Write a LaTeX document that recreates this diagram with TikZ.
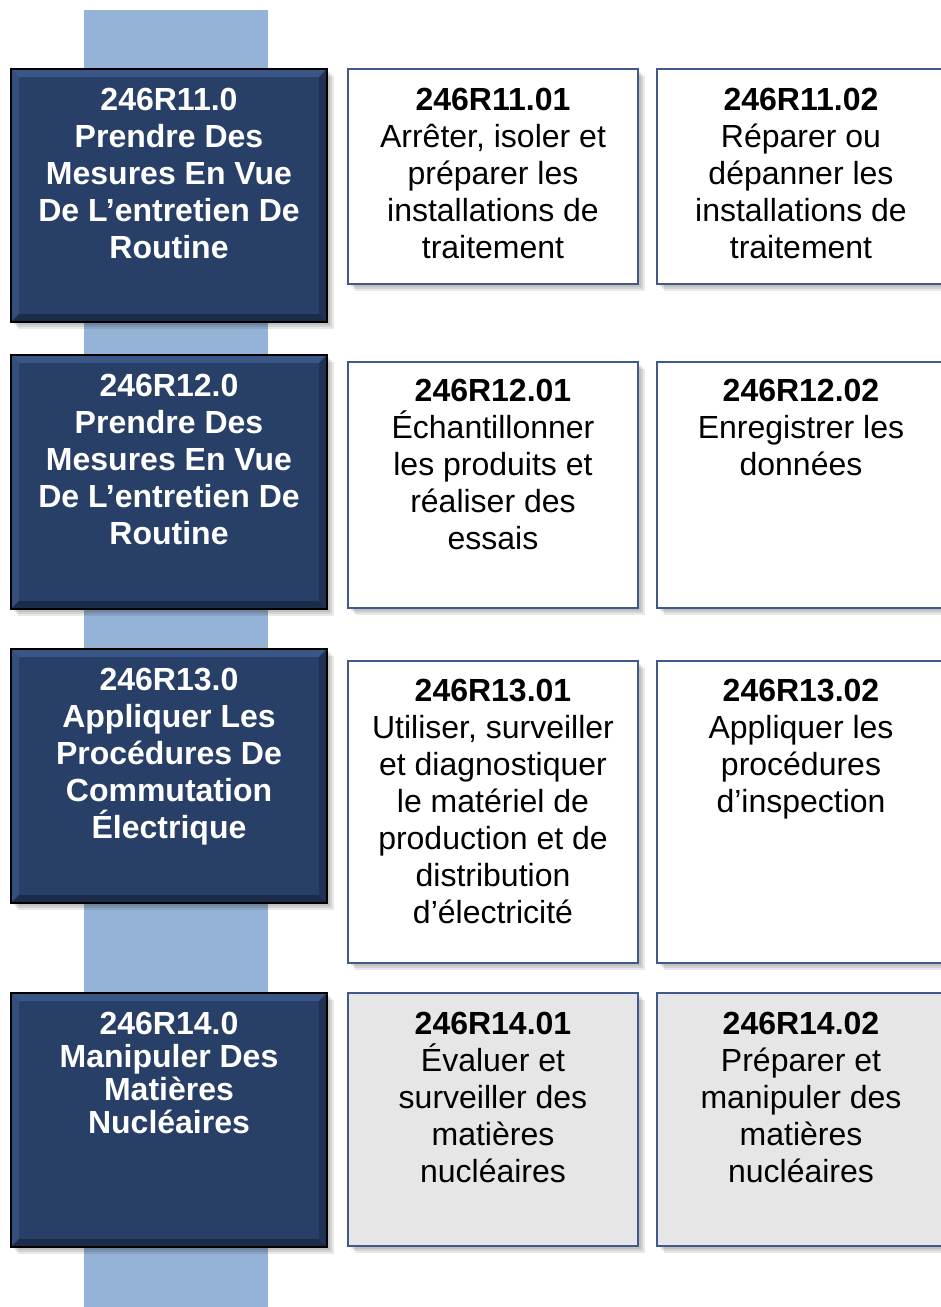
\documentclass[tikz,border=0pt]{standalone}
\usepackage{fontspec}
\setmainfont{Liberation Sans}
\definecolor{barblue}{HTML}{95B3D7}
\definecolor{navy}{HTML}{283F68}
\definecolor{navylight}{HTML}{3A5686}
\definecolor{navydark}{HTML}{1B2C4A}
\definecolor{frameblue}{HTML}{41598A}
\definecolor{panelgray}{HTML}{E6E6E6}
\begin{document}
\begin{tikzpicture}[x=0.75pt,y=-0.75pt,
  titletext/.style={anchor=north,inner sep=0pt,align=center,text=white,font=\fontsize{24}{27.75}\selectfont\bfseries},
  itemtext/.style={anchor=north,inner sep=0pt,align=center,text=black,font=\fontsize{24}{27.75}\selectfont},
  softshadow/.style={fill=black,opacity=0.09}]
\useasboundingbox (0,0) rectangle (941,1307);

%Shape: Rectangle (vertical bar)
\fill[barblue] (84,10) rectangle (268,1307);

%Shape: dark title blocks with bevel
\foreach \t/\b in {69/322,355/609,649/903,993/1247}{
  \foreach \s in {3,5,7} \fill[softshadow] (11+\s,\t+\s) rectangle (327+\s,\b+\s);
  \fill[navy] (11,\t) rectangle (327,\b);
  \fill[navylight] (11,\t) -- (327,\t) -- (319,\t+8) -- (19,\t+8) -- cycle;
  \fill[navylight!70!navy] (11,\t) -- (19,\t+8) -- (19,\b-8) -- (11,\b) -- cycle;
  \fill[navydark] (11,\b) -- (19,\b-8) -- (319,\b-8) -- (327,\b) -- cycle;
  \fill[navydark!70!navy] (327,\t) -- (327,\b) -- (319,\b-8) -- (319,\t+8) -- cycle;
  \draw[black,line width=1.5pt] (11,\t) rectangle (327,\b);
}

%Shape: item boxes
\foreach \t/\b/\f in {69/284/white,362/608/white,661/963/white,993/1246/panelgray}{
  \foreach \s in {3,5,7} {
    \fill[softshadow] (348+\s,\t+\s) rectangle (638+\s,\b+\s);
    \fill[softshadow] (657+\s,\t+\s) rectangle (945+\s,\b+\s);
  }
  \draw[frameblue,line width=1.2pt,fill=\f] (348,\t) rectangle (638,\b);
  \draw[frameblue,line width=1.2pt,fill=\f] (657,\t) rectangle (945,\b);
}

%Text: row 1
\node[titletext] (d11) at (169,88) {246R11.0\\Prendre Des\\Mesures En Vue\\De L’entretien De\\Routine};
\node[itemtext] (w1101) at (493,88) {\textbf{246R11.01}\\Arrêter, isoler et\\préparer les\\installations de\\traitement};
\node[itemtext] (w1102) at (801,88) {\textbf{246R11.02}\\Réparer ou\\dépanner les\\installations de\\traitement};

%Text: row 2
\node[titletext] (d12) at (169,374) {246R12.0\\Prendre Des\\Mesures En Vue\\De L’entretien De\\Routine};
\node[itemtext] (w1201) at (493,379) {\textbf{246R12.01}\\Échantillonner\\les produits et\\réaliser des\\essais};
\node[itemtext] (w1202) at (801,379) {\textbf{246R12.02}\\Enregistrer les\\données};

%Text: row 3
\node[titletext] (d13) at (169,668) {246R13.0\\Appliquer Les\\Procédures De\\Commutation\\Électrique};
\node[itemtext] (w1301) at (493,679) {\textbf{246R13.01}\\Utiliser, surveiller\\et diagnostiquer\\le matériel de\\production et de\\distribution\\d’électricité};
\node[itemtext] (w1302) at (801,679) {\textbf{246R13.02}\\Appliquer les\\procédures\\d’inspection};

%Text: row 4
\node[titletext,font=\fontsize{24}{24.75}\selectfont\bfseries] (d14) at (169,1012) {246R14.0\\Manipuler Des\\Matières\\Nucléaires};
\node[itemtext] (w1401) at (493,1012) {\textbf{246R14.01}\\Évaluer et\\surveiller des\\matières\\nucléaires};
\node[itemtext] (w1402) at (801,1012) {\textbf{246R14.02}\\Préparer et\\manipuler des\\matières\\nucléaires};

\end{tikzpicture}
\end{document}
